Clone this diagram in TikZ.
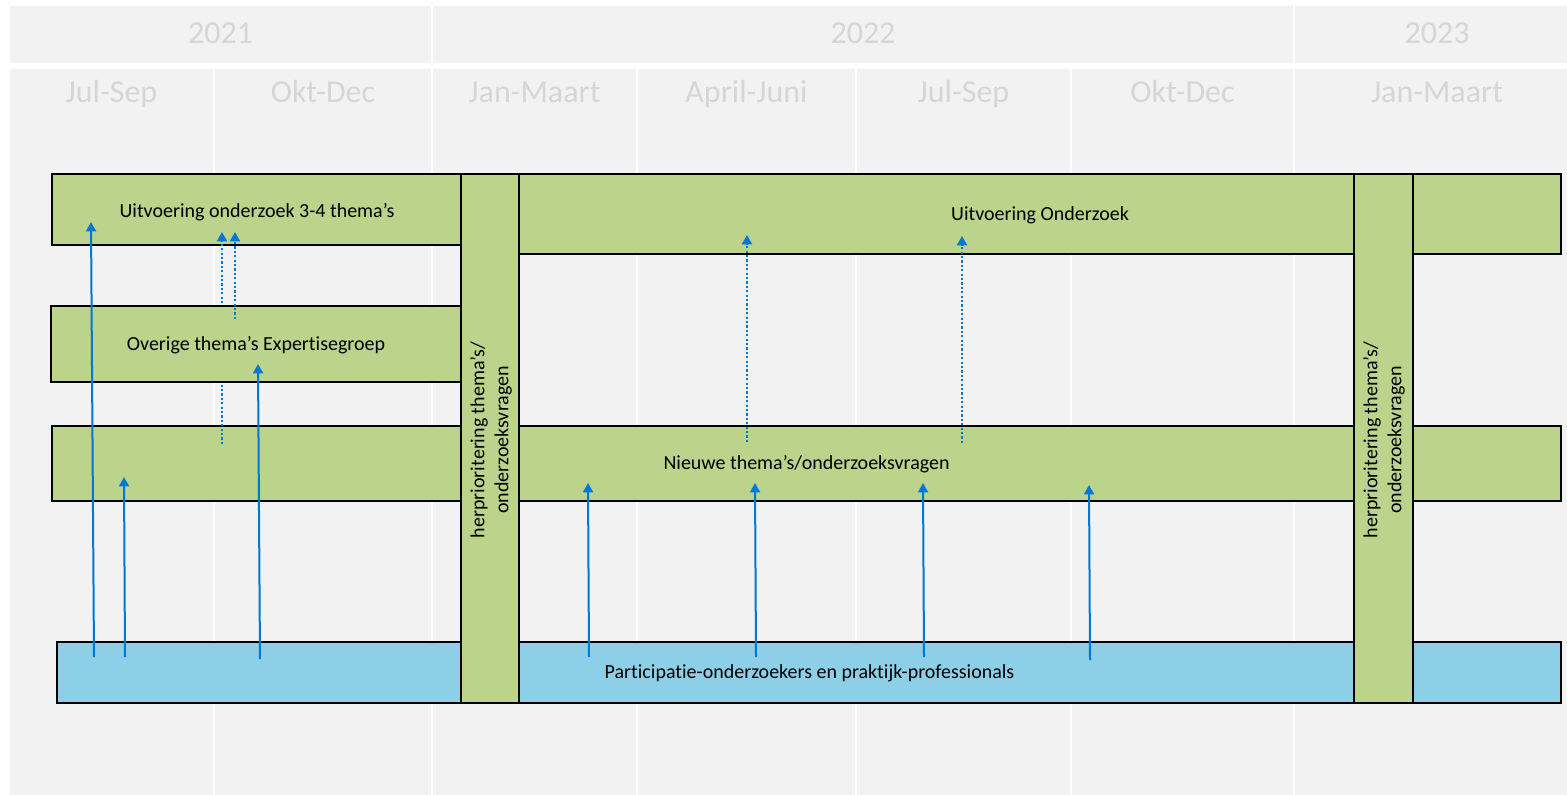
\documentclass[tikz,border=0pt]{standalone}
\usepackage{fontspec}
\setmainfont{Carlito}[Ligatures=NoCommon]
\usetikzlibrary{arrows.meta,fit}
\definecolor{bg}{RGB}{242,242,242}
\definecolor{hdr}{RGB}{214,214,214}
\definecolor{grn}{RGB}{187,211,139}
\definecolor{blu}{RGB}{142,207,232}
\definecolor{arr}{RGB}{0,120,212}
\begin{document}
\begin{tikzpicture}[x=0.5pt,y=-0.5pt,
  cell/.style={fill=bg, draw=none, inner sep=0pt},
  hdrtext/.style={text=hdr, font=\fontsize{16}{19}\selectfont, anchor=base, inner sep=0pt},
  gbox/.style={fill=grn, draw=black, line width=0.75pt, inner sep=0pt},
  bbox/.style={gbox, fill=blu},
  btext/.style={inner sep=0pt, anchor=base, font=\fontsize{10}{12}\selectfont},
  vtext/.style={rotate=90, align=center, inner sep=0pt, font=\fontsize{10}{12}\selectfont},
  flow/.style={draw=arr, line width=1pt, -{Triangle[length=4.7pt,width=5pt]}},
  dotflow/.style={flow, line width=1.1pt, dash pattern=on 1.1pt off 1.1pt},
]
\useasboundingbox (0,0) rectangle (1567,794);
\fill[white] (0,0) rectangle (1567,794);

% header cells
\node[cell, fit={(10,6) (431,63)}] (c21) {};
\node[cell, fit={(433,6) (1293,63)}] (c22) {};
\node[cell, fit={(1295,6) (1580,63)}] (c23) {};
\node[cell, fit={(10,69) (213,800)}] (q1) {};
\node[cell, fit={(215,69) (431,800)}] (q2) {};
\node[cell, fit={(433,69) (636,800)}] (q3) {};
\node[cell, fit={(638,69) (855,800)}] (q4) {};
\node[cell, fit={(857,69) (1070,800)}] (q5) {};
\node[cell, fit={(1072,69) (1293,800)}] (q6) {};
\node[cell, fit={(1295,69) (1580,800)}] (q7) {};

\node[hdrtext] (t21) at (220.5,43) {2021};
\node[hdrtext] (t22) at (863,43) {2022};
\node[hdrtext] (t23) at (1437,43) {2023};
\node[hdrtext] (h1) at (111.5,102) {Jul-Sep};
\node[hdrtext] (h2) at (323,102) {Okt-Dec};
\node[hdrtext] (h3) at (534.5,102) {Jan-Maart};
\node[hdrtext] (h4) at (746.5,102) {April-Juni};
\node[hdrtext] (h5) at (963.5,102) {Jul-Sep};
\node[hdrtext] (h6) at (1182.5,102) {Okt-Dec};
\node[hdrtext] (h7) at (1437,102) {Jan-Maart};

% horizontal bars
\node[gbox, fit={(52,174) (461,245)}] (A) {};
\node[btext] (At) at (257,217) {Uitvoering onderzoek 3-4 thema’s};
\node[gbox, fit={(519,174) (1561,254)}] (E) {};
\node[btext] (Et) at (1040,220) {Uitvoering Onderzoek};
\node[gbox, fit={(52,426) (1561,501)}] (CF) {};
\node[btext] (CFt) at (806.5,469) {Nieuwe thema’s/onderzoeksvragen};
\node[bbox, fit={(57,642) (1561,703)}] (DG) {};
\node[btext] (DGt) at (809.5,678) {Participatie-onderzoekers en praktijk-professionals};

% dotted arrow partly hidden behind B
\coordinate (da0) at (222,444);
\coordinate (da1) at (222,232);
\draw[dotflow] (da0) -- (da1);

\node[gbox, fit={(51,306) (461,382)}] (B) {};
\node[btext] (Bt) at (256,350) {Overige thema’s Expertisegroep};

\coordinate (db0) at (235,319);
\coordinate (db1) at (235,232);
\draw[dotflow] (db0) -- (db1);
\coordinate (dc0) at (747,442);
\coordinate (dc1) at (747,235);
\draw[dotflow] (dc0) -- (dc1);
\coordinate (dd0) at (962,443);
\coordinate (dd1) at (962,236);
\draw[dotflow] (dd0) -- (dd1);

% vertical bars
\node[gbox, fit={(461,174) (519,703)}] (V1) {};
\node[vtext] (V1t) at (491,440) {herprioritering thema’s/\\onderzoeksvragen};
\node[gbox, fit={(1354,174) (1413,703)}] (V2) {};
\node[vtext] (V2t) at (1384,440) {herprioritering thema’s/\\onderzoeksvragen};

% solid arrows
\coordinate (s1) at (94,657);  \coordinate (e1) at (91,222);
\coordinate (s2) at (125,657); \coordinate (e2) at (124,477);
\coordinate (s3) at (260,659); \coordinate (e3) at (258,364);
\coordinate (s4) at (589,657); \coordinate (e4) at (588,483);
\coordinate (s5) at (756,657); \coordinate (e5) at (755,483);
\coordinate (s6) at (924,657); \coordinate (e6) at (923,483);
\coordinate (s7) at (1090,660); \coordinate (e7) at (1089,485);
\foreach \i in {1,...,7} { \draw[flow] (s\i) -- (e\i); }
\end{tikzpicture}
\end{document}
